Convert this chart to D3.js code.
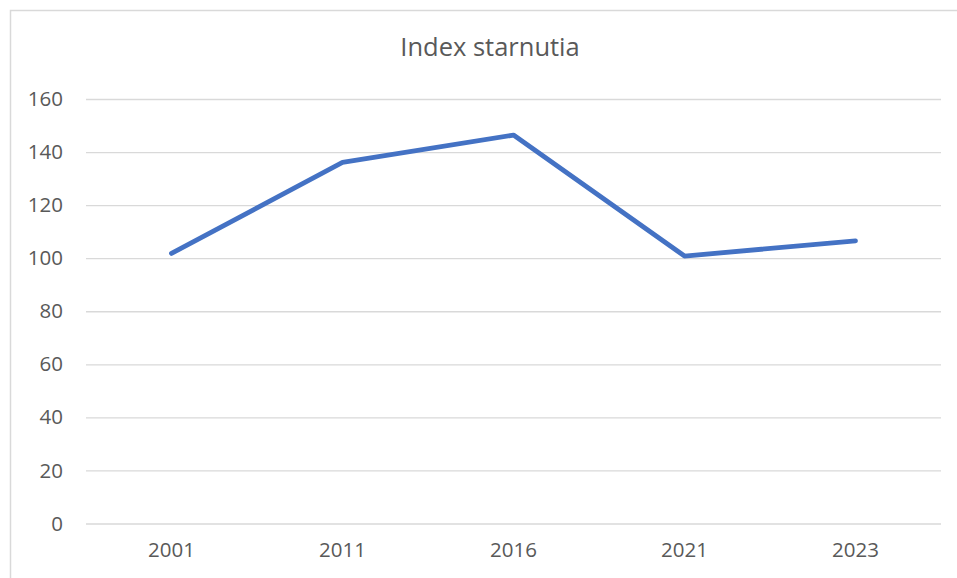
<!DOCTYPE html>
<html>
<head>
<meta charset="utf-8">
<script src="https://cdn.jsdelivr.net/npm/d3@7"></script>
<style>
html,body{margin:0;padding:0;background:#fff;overflow:hidden;}
svg{display:block;}
</style>
</head>
<body>
<svg id="chart" width="957" height="578"></svg>
<script>
const title = "Index starnutia";
const categories = ["2001", "2011", "2016", "2021", "2023"];
const values = [101.8, 136.1, 146.4, 100.8, 106.5];
const yTicks = [0, 20, 40, 60, 80, 100, 120, 140, 160];

const svg = d3.select("#chart");
const W = 957, H = 578;
const plot = {left: 86, right: 941, top: 99, bottom: 523.5};
const font = "'Open Sans', 'Noto Sans', sans-serif";
const textColor = "#595959";
const gridColor = "#d9d9d9";

// chart area border (extends beyond the viewport on right and bottom)
svg.append("rect")
  .attr("x", 10.5).attr("y", 10.5)
  .attr("width", 980).attr("height", 600)
  .attr("fill", "#fff")
  .attr("stroke", gridColor).attr("stroke-width", 1.5);

const x = d3.scaleBand().domain(categories).range([plot.left, plot.right]).padding(0);
const y = d3.scaleLinear().domain([0, 160]).range([plot.bottom, plot.top]);

// gridlines + y labels
const yAxis = d3.axisLeft(y).tickValues(yTicks).tickSize(-(plot.right - plot.left)).tickPadding(23).tickFormat(d3.format("d"));
const gy = svg.append("g").attr("transform", `translate(${plot.left},0)`).call(yAxis);
gy.select(".domain").remove();
gy.selectAll(".tick line").attr("stroke", gridColor).attr("stroke-width", 1.3);
gy.selectAll(".tick text").attr("fill", textColor).attr("font-family", font).attr("font-size", "20.5px");

// x labels
const xAxis = d3.axisBottom(x).tickSize(0).tickPadding(19);
const gx = svg.append("g").attr("transform", `translate(0,${plot.bottom})`).call(xAxis);
gx.select(".domain").remove();
gx.selectAll(".tick text").attr("fill", textColor).attr("font-family", font).attr("font-size", "20.5px");

// line
const line = d3.line()
  .x((d, i) => x(categories[i]) + x.bandwidth() / 2)
  .y(d => y(d));
svg.append("path")
  .datum(values)
  .attr("d", line)
  .attr("fill", "none")
  .attr("stroke", "#4472C4")
  .attr("stroke-width", 4.8)
  .attr("stroke-linecap", "round")
  .attr("stroke-linejoin", "round");

// title
svg.append("text")
  .attr("x", 490)
  .attr("y", 56)
  .attr("text-anchor", "middle")
  .attr("fill", textColor)
  .attr("font-family", font)
  .attr("font-size", "25.5px")
  .text(title);
</script>
</body>
</html>
